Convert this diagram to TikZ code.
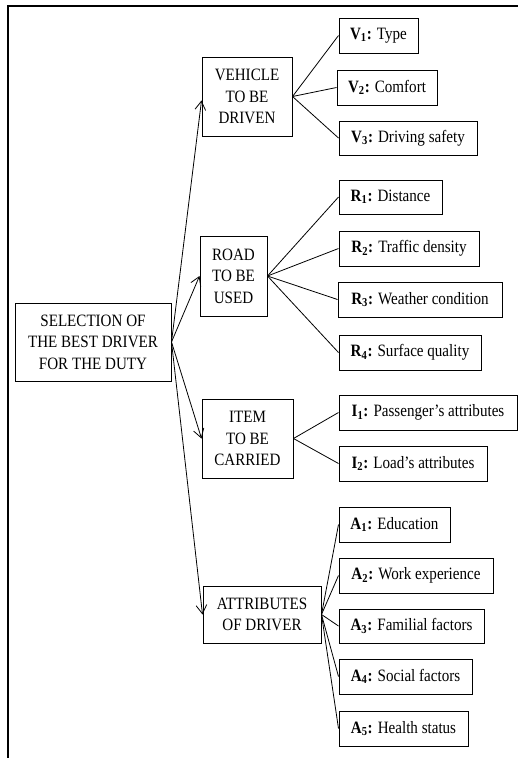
\documentclass[tikz,border=0pt]{standalone}
\usepackage{fontspec}
\setmainfont{Liberation Serif}[FakeStretch=0.87]
\usetikzlibrary{arrows.meta}
\tikzset{
  box/.style={draw, line width=0.75pt, rectangle, inner sep=0pt, align=center,
    font=\fontsize{13}{16.2}\selectfont},
  arr/.style={line width=0.6pt, -{Straight Barb[length=6.5pt,width=8pt,line width=0.6pt]}},
  link/.style={line width=0.6pt},
  frame/.style={line width=0.8pt}
}
\newcommand{\bx}[6]{%
  \node[box, minimum width={(#4-#2)*0.75pt}, minimum height={(#5-#3)*0.75pt}]
    (#1) at ({(#2+#4)/2},{(#3+#5)/2}) {#6};}
\newcommand{\lab}[3]{\textbf{#1\textsubscript{#2}:} #3}
\begin{document}
\begin{tikzpicture}[x=0.75pt,y=-0.75pt]
\useasboundingbox (0,0) rectangle (518,758);
\draw[frame] (8,758) -- (8,6) -- (518,6);
% main and category boxes
\bx{sel}{15}{303}{171}{381}{SELECTION OF\\THE BEST DRIVER\\FOR THE DUTY}
\bx{veh}{202}{57}{292}{136}{VEHICLE\\TO BE\\DRIVEN}
\bx{road}{200}{236}{267}{316}{ROAD\\TO BE\\USED}
\bx{item}{202}{399}{293}{478}{ITEM\\TO BE\\CARRIED}
\bx{attr}{203}{586}{321}{643}{ATTRIBUTES\\OF DRIVER}
% criteria boxes
\bx{v1}{339}{18}{418}{53}{\lab{V}{1}{Type}}
\bx{v2}{337}{70}{437}{105}{\lab{V}{2}{Comfort}}
\bx{v3}{339}{121}{477}{155}{\lab{V}{3}{Driving safety}}
\bx{r1}{339}{180}{442}{214}{\lab{R}{1}{Distance}}
\bx{r2}{339}{231}{479}{266}{\lab{R}{2}{Traffic density}}
\bx{r3}{338}{282}{502}{317}{\lab{R}{3}{Weather condition}}
\bx{r4}{339}{335}{481}{370}{\lab{R}{4}{Surface quality}}
\bx{i1}{339}{395}{517}{430}{\lab{I}{1}{Passenger’s attributes}}
\bx{i2}{339}{446}{487}{481}{\lab{I}{2}{Load’s attributes}}
\bx{a1}{339}{507}{450}{542}{\lab{A}{1}{Education}}
\bx{a2}{339}{558}{493}{593}{\lab{A}{2}{Work experience}}
\bx{a3}{339}{609}{484}{643}{\lab{A}{3}{Familial factors}}
\bx{a4}{339}{659}{472}{694}{\lab{A}{4}{Social factors}}
\bx{a5}{339}{711}{468}{746}{\lab{A}{5}{Health status}}
% arrows
\draw[arr] (sel.east) -- (veh.185);
\draw[arr] (sel.east) -- (road.west);
\draw[arr] (sel.east) -- (item.west);
\draw[arr] (sel.east) -- (attr.west);
% links
\foreach \c in {v1,v2,v3} \draw[link] (veh.east) -- (\c.west);
\foreach \c in {r1,r2,r3,r4} \draw[link] (road.east) -- (\c.west);
\foreach \c in {i1,i2} \draw[link] (item.east) -- (\c.west);
\foreach \c in {a1,a2,a3,a4,a5} \draw[link] (attr.east) -- (\c.west);
\end{tikzpicture}
\end{document}
